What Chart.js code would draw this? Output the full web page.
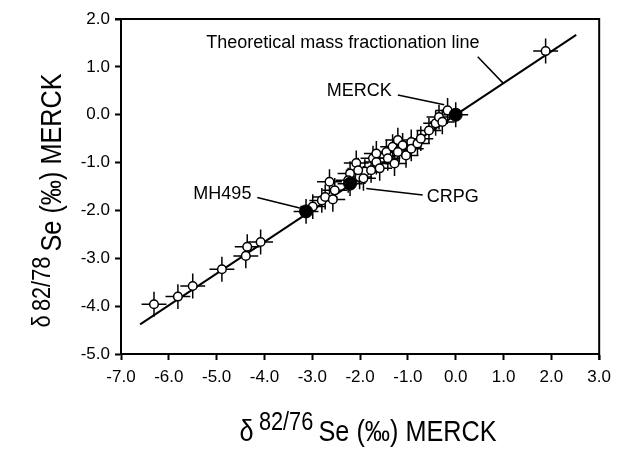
<!DOCTYPE html>
<html><head><meta charset="utf-8">
<script src="https://cdn.jsdelivr.net/npm/chart.js@4.4.1/dist/chart.umd.min.js"></script>
<style>html,body{margin:0;padding:0;background:#fff}#wrap{width:618px;height:449px}</style>
</head><body><div id="wrap"><canvas id="c" width="618" height="449"></canvas></div>
<script>
// ---- data ----
const sampleX = [-6.31,-5.81,-5.50,-4.89,-4.39,-4.36,-4.08,
  -2.99,-2.80,-2.73,-2.57,-2.64,-2.53,
  -2.21,-2.25,-2.08,-2.01,-1.90,-1.93,-2.04,
  -1.73,-1.66,-1.77,-1.59,-1.66,-1.45,-1.42,-1.32,-1.21,-1.18,-1.04,-0.93,-1.11,-1.28,-1.21,-0.93,-0.80,
  -0.73,-0.56,-0.42,-0.35,-0.28,-0.17,1.88];
const sampleY = [-3.96,-3.80,-3.58,-3.23,-2.95,-2.76,-2.66,
  -1.92,-1.79,-1.72,-1.77,-1.40,-1.58,
  -1.23,-1.37,-1.01,-1.30,-1.19,-1.33,-1.16,
  -0.91,-0.99,-1.16,-1.12,-0.81,-0.78,-0.91,-0.67,-0.53,-0.74,-0.85,-0.57,-0.64,-1.02,-0.78,-0.71,-0.60,
  -0.50,-0.33,-0.18,-0.05,-0.15,0.09,1.33];
const standardNames = ['MERCK','MH495','CRPG'];
const standardX = [0.00,-3.13,-2.21];
const standardY = [0.00,-2.02,-1.44];
const errorX = 0.26;   // half-width of horizontal error bar (permil)
const errorY = 0.26;   // half-height of vertical error bar (permil)
const lineX = [-6.60, 2.52];
const lineY = [-4.38, 1.67];
const xTickLabels = ['-7.0','-6.0','-5.0','-4.0','-3.0','-2.0','-1.0','0.0','1.0','2.0','3.0'];
const yTickLabels = ['-5.0','-4.0','-3.0','-2.0','-1.0','0.0','1.0','2.0'];

// annotations (data coordinates)
const annotations = [
  {text:'Theoretical mass fractionation line', x:-2.36, y:1.49, from:[0.46,1.21], to:[0.99,0.66]},
  {text:'MERCK', x:-2.02, y:0.49, from:[-1.21,0.41], to:[-0.24,0.21]},
  {text:'MH495', x:-4.88, y:-1.66, from:[-4.15,-1.73], to:[-3.22,-1.96]},
  {text:'CRPG', x:-0.06, y:-1.72, from:[-1.87,-1.54], to:[-0.69,-1.68]}
];

const samplePts = sampleX.map((x,i)=>({x, y:sampleY[i]}));
const standardPts = standardX.map((x,i)=>({x, y:standardY[i]}));
const linePts = lineX.map((x,i)=>({x, y:lineY[i]}));

const FONT = "'Liberation Sans', Arial, Helvetica, sans-serif";

const errorBars = {
  id:'errorBars',
  beforeDatasetsDraw(chart){
    const {ctx, scales:{x, y}} = chart;
    ctx.save();
    ctx.strokeStyle = '#000';
    ctx.lineWidth = 1.5;
    const all = samplePts.concat(standardPts);
    all.forEach(p=>{
      const px = x.getPixelForValue(p.x), py = y.getPixelForValue(p.y);
      ctx.beginPath();
      ctx.moveTo(x.getPixelForValue(p.x - errorX), py);
      ctx.lineTo(x.getPixelForValue(p.x + errorX), py);
      ctx.moveTo(px, y.getPixelForValue(p.y - errorY));
      ctx.lineTo(px, y.getPixelForValue(p.y + errorY));
      ctx.stroke();
    });
    ctx.restore();
  }
};

const frame = {
  id:'frame',
  afterDraw(chart){
    const {ctx, chartArea:a} = chart;
    ctx.save();
    ctx.strokeStyle = '#000';
    ctx.lineWidth = 2;
    ctx.beginPath();
    ctx.moveTo(a.left - 6, a.top);
    ctx.lineTo(a.right, a.top);
    ctx.lineTo(a.right, a.bottom + 6);
    ctx.stroke();
    ctx.restore();
  }
};

const notes = {
  id:'notes',
  afterDraw(chart){
    const {ctx, scales:{x, y}} = chart;
    ctx.save();
    ctx.fillStyle = '#000';
    ctx.strokeStyle = '#000';
    ctx.lineWidth = 1.5;
    ctx.font = '18px ' + FONT;
    ctx.textAlign = 'center';
    ctx.textBaseline = 'middle';
    annotations.forEach(a=>{
      ctx.fillText(a.text, x.getPixelForValue(a.x), y.getPixelForValue(a.y));
      ctx.beginPath();
      ctx.moveTo(x.getPixelForValue(a.from[0]), y.getPixelForValue(a.from[1]));
      ctx.lineTo(x.getPixelForValue(a.to[0]), y.getPixelForValue(a.to[1]));
      ctx.stroke();
    });
    ctx.restore();
  }
};

// axis titles with superscript, condensed
function drawTitle(ctx, parts, squeeze){
  let widths = parts.map(p=>{ctx.font = p.size+'px '+FONT; return ctx.measureText(p.t).width + (p.gap||0);});
  const total = widths.reduce((a,b)=>a+b,0);
  ctx.scale(squeeze,1);
  let cx = -total/2;
  parts.forEach((p,i)=>{
    ctx.font = p.size+'px '+FONT;
    ctx.fillText(p.t, cx, -p.rise);
    cx += widths[i];
  });
}
const titles = {
  id:'titles',
  afterDraw(chart){
    const {ctx, chartArea:a} = chart;
    ctx.save();
    ctx.fillStyle = '#000';
    ctx.textAlign = 'left';
    ctx.textBaseline = 'alphabetic';
    const xParts = [{t:'δ',size:29,rise:0,gap:6},{t:'82/76',size:25,rise:11,gap:6},{t:'Se (‰) MERCK',size:29,rise:0}];
    const yParts = [{t:'δ',size:25,rise:11,gap:5},{t:'82/78',size:25,rise:11,gap:6},{t:'Se (‰) MERCK',size:29,rise:0}];
    ctx.save();
    ctx.translate((a.left+a.right)/2 + 8, 441);
    drawTitle(ctx, xParts, 0.87);
    ctx.restore();
    ctx.save();
    ctx.translate(61, (a.top+a.bottom)/2 + 14);
    ctx.rotate(-Math.PI/2);
    drawTitle(ctx, yParts, 0.87);
    ctx.restore();
    ctx.restore();
  }
};

new Chart(document.getElementById('c'), {
  data:{
    datasets:[
      {type:'scatter', label:'Standards', data:standardPts, pointRadius:6.5, pointBackgroundColor:'#000', pointBorderColor:'#000', pointBorderWidth:1},
      {type:'scatter', label:'Samples', data:samplePts, pointRadius:4.3, pointBackgroundColor:'#fff', pointBorderColor:'#000', pointBorderWidth:1.5},
      {type:'line', label:'Theoretical mass fractionation line', data:linePts, borderColor:'#000', borderWidth:2, pointRadius:0, fill:false, tension:0}
    ]
  },
  options:{
    responsive:false,
    animation:false,
    devicePixelRatio:1,
    layout:{padding:{top:19, right:14, left:0, bottom:0}},
    plugins:{legend:{display:false}, tooltip:{enabled:false}},
    scales:{
      x:{type:'linear', min:-7, max:3,
        ticks:{stepSize:1, color:'#000', font:{family:FONT, size:17}, padding:7, maxRotation:0,
          callback:(v)=>xTickLabels[Math.round(v+7)]},
        grid:{drawOnChartArea:false, drawTicks:true, tickLength:6, tickWidth:2, tickColor:'#000'},
        border:{display:true, color:'#000', width:2},
        afterFit:(s)=>{s.height = 95;}
      },
      y:{type:'linear', min:-5, max:2,
        ticks:{stepSize:1, color:'#000', font:{family:FONT, size:17}, padding:5,
          callback:(v)=>yTickLabels[Math.round(v+5)]},
        grid:{drawOnChartArea:false, drawTicks:true, tickLength:6, tickWidth:2, tickColor:'#000'},
        border:{display:true, color:'#000', width:2},
        afterFit:(s)=>{s.width = 121;}
      }
    }
  },
  plugins:[errorBars, frame, notes, titles]
});
</script></body></html>
